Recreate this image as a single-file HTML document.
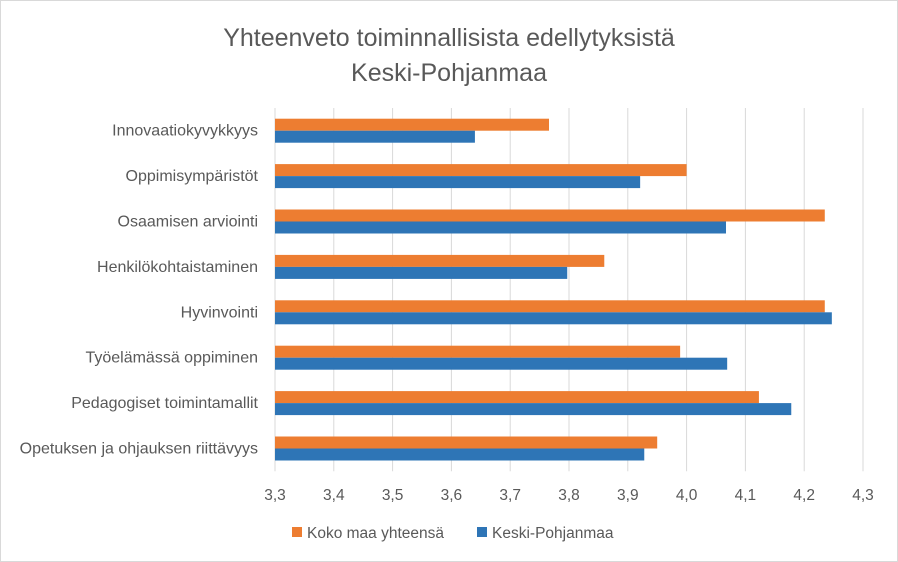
<!DOCTYPE html>
<html><head><meta charset="utf-8"><style>
body{margin:0;background:#fff;}
svg{display:block;font-family:"Liberation Sans",sans-serif;}
</style></head><body>
<svg id="chart" width="898" height="562">
<rect x="0.5" y="0.5" width="897" height="561" fill="#fff" stroke="#d9d9d9"/>
<text x="449" y="46" text-anchor="middle" font-size="25" fill="#595959">Yhteenveto toiminnallisista edellytyksistä</text>
<text x="449" y="81" text-anchor="middle" font-size="25" fill="#595959">Keski-Pohjanmaa</text>
<g id="grid"></g><g id="bars"></g><g id="labels"></g>
<g>
<rect x="292" y="527" width="10" height="10" fill="#ED7D31"/>
<text x="307" y="538" font-size="15.5" fill="#595959">Koko maa yhteensä</text>
<rect x="477" y="527" width="10" height="10" fill="#2E75B6"/>
<text x="492" y="538" font-size="15.5" fill="#595959">Keski-Pohjanmaa</text>
</g>
</svg>
<script>
const categories=["Innovaatiokyvykkyys","Oppimisympäristöt","Osaamisen arviointi","Henkilökohtaistaminen","Hyvinvointi","Työelämässä oppiminen","Pedagogiset toimintamallit","Opetuksen ja ohjauksen riittävyys"];
const kokoMaa=[3.766,4.0,4.235,3.86,4.235,3.989,4.123,3.95];
const keskiPohjanmaa=[3.64,3.921,4.067,3.797,4.247,4.069,4.178,3.928];
const ticks=[3.3,3.4,3.5,3.6,3.7,3.8,3.9,4.0,4.1,4.2,4.3];
const tickLabels=["3,3","3,4","3,5","3,6","3,7","3,8","3,9","4,0","4,1","4,2","4,3"];
const NS="http://www.w3.org/2000/svg";
const x=v=>275+(v-3.3)*588;
const top0=108,band=45.4;
const yc=i=>top0+band*(i+0.5);
function mk(tag,attrs,parent){const e=document.createElementNS(NS,tag);for(const k in attrs)e.setAttribute(k,attrs[k]);document.getElementById(parent).appendChild(e);return e;}
ticks.forEach((t,i)=>{
 const l=mk("line",{x1:x(t),x2:x(t),y1:top0,y2:top0+band*8,stroke:"#d9d9d9","stroke-width":1},"grid");
 
 
 const tx=mk("text",{x:x(t),y:500,"text-anchor":"middle","font-size":15.5,fill:"#595959"},"labels");
 tx.textContent=tickLabels[i];
 
 
});
categories.forEach((c,i)=>{
 const b1=mk("rect",{x:x(3.3),y:yc(i)-12,width:x(kokoMaa[i])-x(3.3),height:12,fill:"#ED7D31"},"bars");
 
 
 const b2=mk("rect",{x:x(3.3),y:yc(i),width:x(keskiPohjanmaa[i])-x(3.3),height:12,fill:"#2E75B6"},"bars");
 
 
 const t=mk("text",{x:258,y:yc(i)+5,"text-anchor":"end","font-size":16,fill:"#595959"},"labels");
 t.textContent=c;
 
 
});
</script>
</body></html>
